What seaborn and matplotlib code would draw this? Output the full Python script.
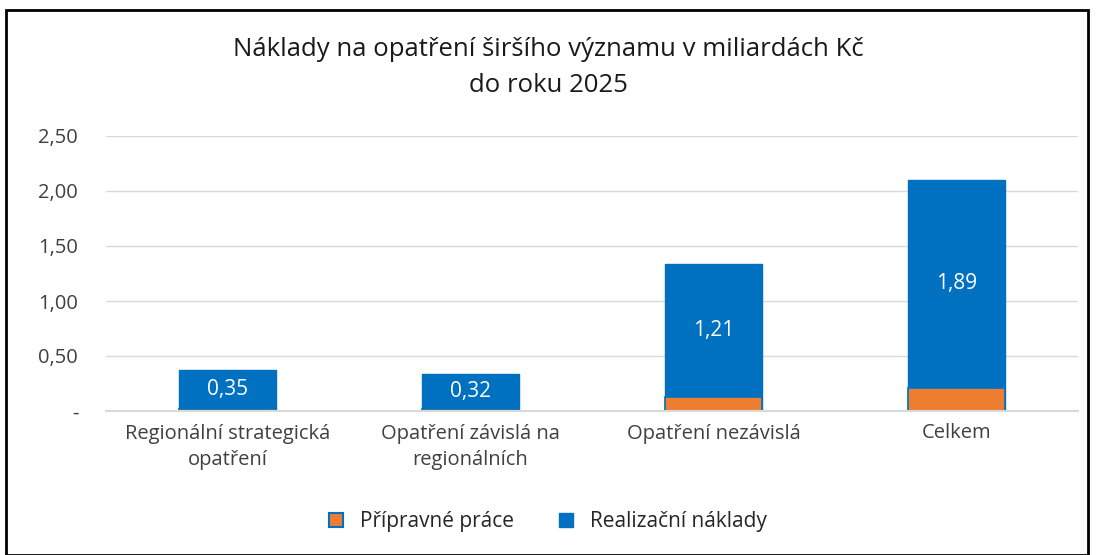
import matplotlib
matplotlib.use("Agg")
import matplotlib.pyplot as plt
import seaborn as sns
import pandas as pd
from matplotlib.patches import Rectangle, Patch

# --- DATA ---
categories = ["Regionální strategická\nopatření", "Opatření závislá na\nregionálních",
              "Opatření nezávislá", "Celkem"]
pripravne = [0.02, 0.02, 0.13, 0.21]
realizacni = [0.35, 0.32, 1.21, 1.89]
y_ticks = [0.0, 0.5, 1.0, 1.5, 2.0, 2.5]
y_labels = ["-", "0,50", "1,00", "1,50", "2,00", "2,50"]

BLUE = "#0070C0"
ORANGE = "#ED7D31"

sns.set_theme(style="white")
plt.rcParams["font.family"] = ["Open Sans", "DejaVu Sans"]

df = pd.DataFrame({"cat": categories, "prep": pripravne, "real": realizacni})
df["total"] = df["prep"] + df["real"]

fig = plt.figure(figsize=(10.96, 5.55), dpi=100)
ax = fig.add_axes([106 / 1096, 1 - 411 / 555, (1078 - 106) / 1096, (411 - 136) / 555])

sns.barplot(data=df, x="cat", y="total", color=BLUE, width=0.4, saturation=1,
            edgecolor=BLUE, linewidth=1, ax=ax)
sns.barplot(data=df, x="cat", y="prep", color=ORANGE, width=0.4, saturation=1,
            edgecolor=BLUE, linewidth=1.2, ax=ax)

for i, row in df.iterrows():
    ax.text(i, row["prep"] + row["real"] / 2, f"{row['real']:.2f}".replace(".", ","),
            ha="center", va="center", color="white", fontsize=15)

ax.set_ylim(0, 2.5)
ax.set_xlim(-0.5, 3.5)
ax.set_yticks(y_ticks)
ax.set_yticklabels(y_labels, fontsize=14.5, color="#404040")
ax.set_xticks(range(len(categories)))
ax.set_xticklabels(categories, fontsize=14.5, color="#404040", linespacing=1.45)
ax.tick_params(axis="x", length=0, pad=9)
ax.tick_params(axis="y", length=0, pad=20)
ax.yaxis.grid(True, color="#D9D9D9", linewidth=1)
ax.set_axisbelow(True)
ax.set_xlabel("")
ax.set_ylabel("")
for s in ["top", "right", "left"]:
    ax.spines[s].set_visible(False)
ax.spines["bottom"].set_color("#D9D9D9")
ax.spines["bottom"].set_linewidth(1.5)

fig.text(0.5, 1 - 50 / 555, "Náklady na opatření širšího významu v miliardách Kč",
         ha="center", va="center", fontsize=18.5, color="#1a1a1a")
fig.text(0.5, 1 - 86 / 555, "do roku 2025", ha="center", va="center",
         fontsize=18.5, color="#1a1a1a")

handles = [Patch(facecolor=ORANGE, edgecolor=BLUE, linewidth=1.5, label="Přípravné práce"),
           Patch(facecolor=BLUE, edgecolor=BLUE, label="Realizační náklady")]
fig.legend(handles=handles, loc="center", bbox_to_anchor=(0.5, 1 - 522 / 555), ncol=2,
           frameon=False, fontsize=15, handlelength=0.65, handleheight=0.65,
           handletextpad=0.8, columnspacing=2.2, labelcolor="#262626")

# outer frame
fig.patches.append(Rectangle((6 / 1096, 0), (1088 - 6) / 1096, 1 - 10 / 555,
                             transform=fig.transFigure, fill=False,
                             edgecolor="black", linewidth=2))

fig.savefig("out.png", dpi=100)
